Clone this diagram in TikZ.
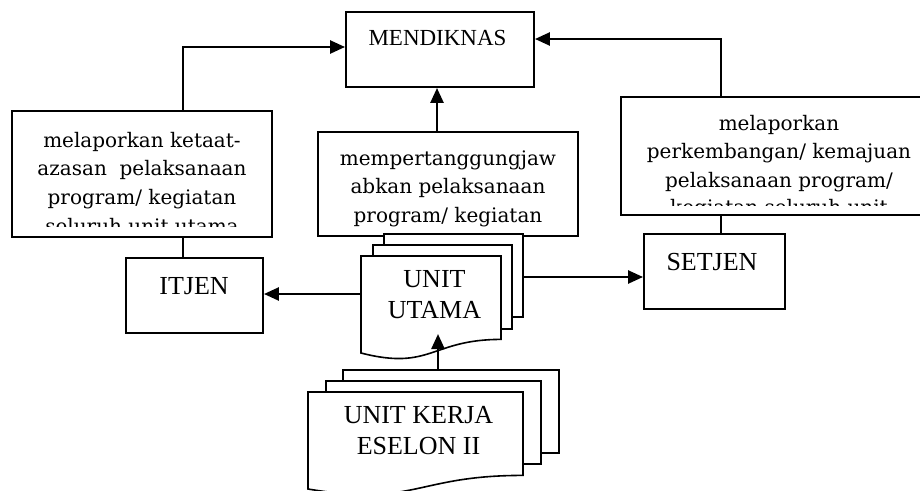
\documentclass[tikz,border=0pt]{standalone}
\usepackage{fontspec}
\setmainfont{Liberation Serif}
\newfontfamily\camfont{DejaVu Serif}
\usetikzlibrary{arrows.meta}
\begin{document}
\begin{tikzpicture}[x=1pt,y=-1pt,
  box/.style={draw, line width=1.9pt, inner sep=0pt},
  tbox/.style={draw, line width=1.7pt, inner sep=0pt, fill=white},
  page/.style={draw, line width=1.6pt, fill=white, line join=miter},
  arr/.style={line width=2.5pt, -{Triangle[length=15pt,width=13pt]}},
  conn/.style={line width=2.3pt},
  lab/.style={anchor=base, inner sep=0pt, font=\fontsize{26}{31}\selectfont},
  ttext/.style={anchor=base, inner sep=0pt, font=\camfont\fontsize{20}{28.7}\selectfont},
]
\useasboundingbox (0,0) rectangle (920,490);
\clip (0,0) rectangle (920,490);

% boxes
\node[box, minimum width=188pt, minimum height=75pt] (mend) at (440,49.5) {};
\node[lab, font=\fontsize{23}{27}\selectfont] (mendt) at (437.5,45) {MENDIKNAS};
\node[tbox, minimum width=260pt, minimum height=126pt] (lbox) at (142,174) {};
\node[tbox, minimum width=260pt, minimum height=104pt] (cbox) at (448,184) {};
\node[tbox, minimum width=316pt, minimum height=118pt] (rbox) at (779,156) {};
\node[box, minimum width=137pt, minimum height=75pt] (itjen) at (194.5,295.5) {};
\node[box, minimum width=141pt, minimum height=75pt] (setjen) at (714.5,271.5) {};

% text box contents
\begin{scope}
\clip (12,111) rectangle (272,226);
\node[ttext] (l1) at (142,147) {melaporkan ketaat-};
\node[ttext] (l2) at (142,175.7) {azasan\ \ pelaksanaan};
\node[ttext] (l3) at (142,204.4) {program/ kegiatan};
\node[ttext] (l4) at (142,233.1) {seluruh unit utama};
\end{scope}
\node[ttext] (c1) at (448,165) {mempertanggungjaw};
\node[ttext] (c2) at (448,193.7) {abkan pelaksanaan};
\node[ttext] (c3) at (448,222.4) {program/ kegiatan};
\begin{scope}
\clip (621,97) rectangle (937,205.5);
\node[ttext] (r1) at (779,130) {melaporkan};
\node[ttext] (r2) at (779,158.7) {perkembangan/ kemajuan};
\node[ttext] (r3) at (779,187.4) {pelaksanaan program/};
\node[ttext] (r4) at (779,214.5) {kegiatan seluruh unit};
\end{scope}

% UNIT UTAMA stack
\draw[page] (384,234) rectangle (523,317);
\draw[page] (373,245) rectangle (512,329);
\draw[page] (361,256) -- (501,256) -- (501,339.4) .. controls (431,339.4) and (431,371) .. (361,353) -- cycle;
\node[lab] (unit) at (434.5,287) {UNIT};
\node[lab] (utama) at (434.5,318) {UTAMA};

% UNIT KERJA stack
\draw[page] (343,370) rectangle (559,453);
\draw[page] (326,381) rectangle (541,464);
\draw[page] (308,392) -- (523,392) -- (523,475.4) .. controls (415.5,475.4) and (415.5,507) .. (308,489) -- cycle;
\node[lab] (ukerja) at (418.5,423) {UNIT KERJA};
\node[lab] (eselon) at (418.5,454) {ESELON II};

\node[lab] (itjent) at (194,294) {ITJEN};
\node[lab] (setjent) at (712,270) {SETJEN};

% connector end points on the stacks
\coordinate (uuW) at (361,294);
\coordinate (uuE) at (523,277);
\coordinate (ukN) at (438,370);
\coordinate (uuIn) at (438,334);

% connectors
\draw[arr] ([xshift=41pt]lbox.north) |- ([yshift=2.5pt]mend.west);
\draw[arr] ([xshift=-58pt]rbox.north) |- ([yshift=10.5pt]mend.east);
\draw[arr] ([xshift=-11pt]cbox.north) -- ([xshift=-11pt]cbox.north |- mend.south);
\draw[conn] ([xshift=41pt]lbox.south) -- ([xshift=41pt]lbox.south |- itjen.north);
\draw[conn] ([xshift=-58pt]rbox.south) -- ([xshift=-58pt]rbox.south |- setjen.north);
\draw[arr] (uuW) -- (uuW -| itjen.east);
\draw[arr] (uuE) -- (uuE -| setjen.west);
\draw[arr] (ukN) -- (uuIn);
\end{tikzpicture}
\end{document}
